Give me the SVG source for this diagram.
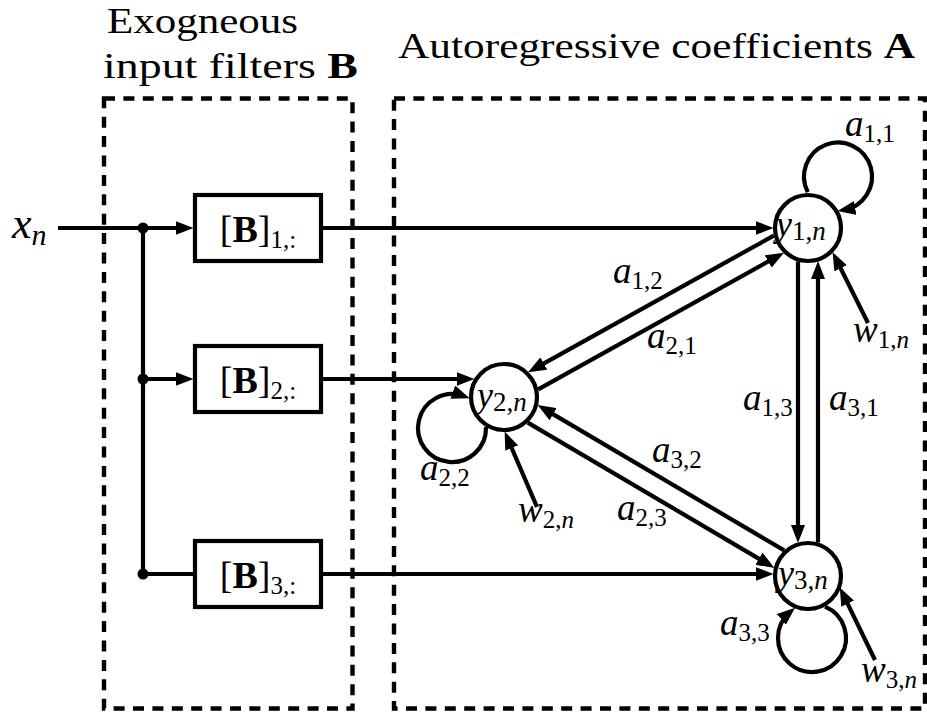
<svg xmlns="http://www.w3.org/2000/svg" width="927" height="715" viewBox="0 0 927 715" font-family="'Liberation Serif', 'Times New Roman', Times, serif">
  <defs>
    <marker id="arrow" markerUnits="userSpaceOnUse" viewBox="0 0 18 14" markerWidth="18" markerHeight="14" refX="11.5" refY="7" orient="auto">
      <path d="M0,0 L18,7 L0,14 Z" fill="#000"/>
    </marker>
    <style>
      .frame { fill: none; stroke: #000; stroke-width: 4.4; stroke-dasharray: 11 8.4; }
      .edge { fill: none; stroke: #000; stroke-width: 4.2; }
      .arr { marker-end: url(#arrow); }
      .node circle { fill: #fff; stroke: #000; stroke-width: 4.2; }
      .box rect { fill: #fff; stroke: #000; stroke-width: 4.2; }
      .dot { fill: #000; }
      text { font-family: 'Liberation Serif', 'Times New Roman', Times, serif; fill: #000; }
      .title { font-size: 36px; }
      .b { font-weight: bold; }
      .lbl { font-size: 37px; font-style: italic; }
      .nlbl { font-size: 36px; font-style: italic; }
      .sub { font-size: 25px; font-style: normal; }
      .nsub { font-size: 27px; font-style: normal; }
      .it { font-style: italic; }
      .blbl { font-size: 38px; }
    </style>
  </defs>

  <rect id="bg" x="0" y="0" width="927" height="715" fill="#fff"/>

  <!-- titles -->
  <g id="titles">
    <text class="title" x="107" y="33" textLength="191" lengthAdjust="spacingAndGlyphs">Exogneous</text>
    <text class="title" x="103" y="78" textLength="255" lengthAdjust="spacingAndGlyphs">input filters <tspan class="b">B</tspan></text>
    <text class="title" x="398" y="58" textLength="517" lengthAdjust="spacingAndGlyphs">Autoregressive coefficients <tspan class="b">A</tspan></text>
  </g>

  <!-- dashed group frames -->
  <g id="frames">
    <rect class="frame" x="104" y="98.5" width="248.5" height="610"/>
    <rect class="frame" x="394" y="98.5" width="531" height="610"/>
  </g>

  <!-- connectors -->
  <g id="connectors">
    <!-- input and distribution -->
    <path class="edge arr" d="M58 228 H187"/>
    <path class="edge" d="M143 228 V574"/>
    <path class="edge arr" d="M143 379 H187"/>
    <path class="edge" d="M143 574 H193"/>
    <circle class="dot" cx="143" cy="228" r="5.5"/>
    <circle class="dot" cx="143" cy="379" r="5.5"/>
    <circle class="dot" cx="143" cy="574" r="5.5"/>

    <!-- filter outputs to nodes -->
    <path class="edge arr" d="M323 228 H767"/>
    <path class="edge arr" d="M323 379 H468"/>
    <path class="edge arr" d="M323 574 H767"/>

    <!-- y1 <-> y2 -->
    <path class="edge arr" d="M773.8 235.6 L533.7 369.1"/>
    <path class="edge arr" d="M538.2 389.4 L778.3 255.9"/>
    <!-- y2 <-> y3 -->
    <path class="edge arr" d="M784.2 550.4 L543.2 408.4"/>
    <path class="edge arr" d="M527.8 422.6 L768.9 564.6"/>
    <!-- y1 <-> y3 -->
    <path class="edge arr" d="M798 261.5 V536.5"/>
    <path class="edge arr" d="M818 542.5 V267.5"/>

    <!-- self loops -->
    <path class="edge arr" d="M807.8 192.1 A34 34 0 1 1 843.9 210"/>
    <path class="edge arr" d="M486 427 A34 34 0 1 1 463.6 396.1"/>
    <path class="edge arr" d="M825 606.6 A34 34 0 1 1 790.1 612"/>

    <!-- noise inputs -->
    <path class="edge arr" d="M868 323 L835.5 258"/>
    <path class="edge arr" d="M537 507 L507.2 437.5"/>
    <path class="edge arr" d="M875 660 L842.6 593.3"/>
  </g>

  <!-- filter boxes -->
  <g id="box1" class="box">
    <rect x="195" y="195" width="126" height="66"/>
    <text class="blbl" x="258" y="242" text-anchor="middle">[<tspan class="b">B</tspan>]<tspan class="sub" dy="6">1,:</tspan></text>
  </g>
  <g id="box2" class="box">
    <rect x="195" y="346" width="126" height="66"/>
    <text class="blbl" x="258" y="393" text-anchor="middle">[<tspan class="b">B</tspan>]<tspan class="sub" dy="6">2,:</tspan></text>
  </g>
  <g id="box3" class="box">
    <rect x="195" y="541" width="126" height="66"/>
    <text class="blbl" x="258" y="588" text-anchor="middle">[<tspan class="b">B</tspan>]<tspan class="sub" dy="6">3,:</tspan></text>
  </g>

  <!-- state nodes -->
  <g id="y1" class="node">
    <circle cx="808" cy="228" r="33"/>
    <text class="nlbl" x="776" y="236">y<tspan class="nsub" dy="4">1,<tspan class="it">n</tspan></tspan></text>
  </g>
  <g id="y2" class="node">
    <circle cx="504" cy="397" r="33"/>
    <text class="nlbl" x="477" y="407">y<tspan class="nsub" dy="4">2,<tspan class="it">n</tspan></tspan></text>
  </g>
  <g id="y3" class="node">
    <circle cx="808" cy="576" r="33"/>
    <text class="nlbl" x="778" y="585">y<tspan class="nsub" dy="4">3,<tspan class="it">n</tspan></tspan></text>
  </g>

  <!-- input label -->
  <g id="xn">
    <text class="lbl" x="12" y="238" style="font-size:44px">x<tspan class="sub it" dy="7" style="font-size:30px">n</tspan></text>
  </g>

  <!-- coefficient labels -->
  <g id="labels">
    <text class="lbl" x="845" y="136">a<tspan class="sub" dy="6">1,1</tspan></text>
    <text class="lbl" x="613" y="283">a<tspan class="sub" dy="6">1,2</tspan></text>
    <text class="lbl" x="647" y="348">a<tspan class="sub" dy="6">2,1</tspan></text>
    <text class="lbl" x="652" y="462">a<tspan class="sub" dy="6">3,2</tspan></text>
    <text class="lbl" x="617" y="520">a<tspan class="sub" dy="6">2,3</tspan></text>
    <text class="lbl" x="743" y="410">a<tspan class="sub" dy="6">1,3</tspan></text>
    <text class="lbl" x="829" y="410">a<tspan class="sub" dy="6">3,1</tspan></text>
    <text class="lbl" x="420" y="480">a<tspan class="sub" dy="6">2,2</tspan></text>
    <text class="lbl" x="720" y="635">a<tspan class="sub" dy="6">3,3</tspan></text>
    <text class="lbl" x="853" y="342">w<tspan class="sub" dy="6">1,<tspan class="it">n</tspan></tspan></text>
    <text class="lbl" x="518" y="522">w<tspan class="sub" dy="6">2,<tspan class="it">n</tspan></tspan></text>
    <text class="lbl" x="861" y="682">w<tspan class="sub" dy="6">3,<tspan class="it">n</tspan></tspan></text>
  </g>
</svg>
